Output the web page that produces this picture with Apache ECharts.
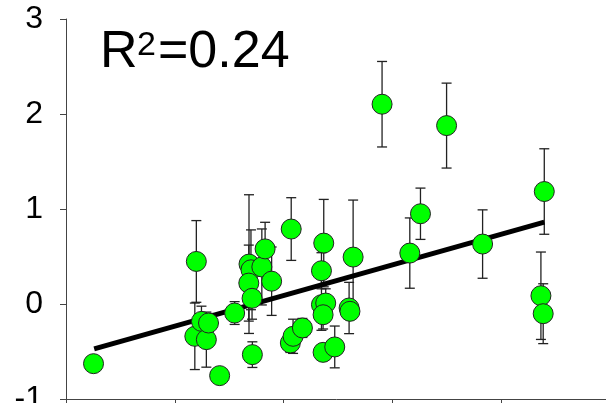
<!DOCTYPE html>
<html>
<head>
<meta charset="utf-8">
<script src="https://cdn.jsdelivr.net/npm/echarts@6/dist/echarts.min.js"></script>
<style>
  html, body { margin: 0; padding: 0; background: #fff; }
  #chart { width: 606px; height: 403px; }
</style>
</head>
<body>
<div id="chart"></div>
<script>
  // measured points (x in axis units, y value, symmetric error)
  var pointX = [0.253, 1.198, 1.184, 1.245, 1.29, 1.31, 1.412, 1.55, 1.713, 1.682,
    1.70, 1.68, 1.71, 1.80, 1.83, 1.89, 2.07, 2.062, 2.087, 2.173,
    2.369, 2.348, 2.348, 2.387, 2.363, 2.363, 2.47, 2.639, 2.602, 2.61,
    2.905, 3.498, 3.258, 3.16, 3.829, 4.396, 4.365, 4.386]
  var pointY = [-0.628, 0.448, -0.34, -0.183, -0.375, -0.20, -0.754, -0.095, -0.533, 0.42,
    0.36, 0.22, 0.06, 0.39, 0.58, 0.24, 0.789, -0.41, -0.34, -0.252,
    0.641, 0.35, -0.007, 0.01, -0.113, -0.509, -0.452, 0.494, -0.042, -0.077,
    2.103, 1.878, 0.95, 0.536, 0.631, 1.184, 0.087, -0.102]
  var errY = [0, 0.43, 0.35, 0.16, 0.29, 0.10, 0, 0.12, 0.135, 0.73,
    0.42, 0.40, 0.22, 0.40, 0.28, 0.36, 0.33, 0.10, 0.18, 0.10,
    0.46, 0.19, 0.27, 0.15, 0.15, 0, 0.22, 0.6, 0.27, 0.05,
    0.45, 0.447, 0.27, 0.37, 0.36, 0.45, 0.46, 0.315]

  // regression line end points
  var lineX = [0.259, 4.396]
  var lineY = [-0.473, 0.862]

  var yTicks = [-1, 0, 1, 2, 3]

  var fontName = '"Liberation Sans", Arial, sans-serif'

  var pts = pointX.map(function (x, i) { return [x, pointY[i]] })
  var bars = pointX.map(function (x, i) { return [x, pointY[i] - errY[i], pointY[i] + errY[i]] })
    .filter(function (d, i) { return errY[i] > 0 })
  var fit = lineX.map(function (x, i) { return [x, lineY[i]] })

  function txt(x, y, s, size) {
    return {
      type: 'text',
      x: x,
      y: y,
      style: {
        text: s,
        fill: '#000',
        fontSize: size,
        fontFamily: fontName,
        align: 'left',
        verticalAlign: 'middle'
      }
    }
  }

  var myChart = echarts.init(document.getElementById('chart'))
  myChart.setOption({
    animation: false,
    grid: {
      left: 66,
      top: 19,
      width: 544,
      height: 380,
      containLabel: false,
      outerBoundsMode: 'none'
    },
    xAxis: {
      type: 'value',
      min: 0,
      max: 5,
      interval: 1,
      splitLine: { show: false },
      axisLine: { onZero: false, lineStyle: { color: '#444', width: 1 } },
      axisTick: { length: 5, lineStyle: { color: '#444' } },
      axisLabel: { show: false }
    },
    yAxis: {
      type: 'value',
      min: yTicks[0],
      max: yTicks[yTicks.length - 1],
      interval: 1,
      splitLine: { show: false },
      axisLine: { show: true, lineStyle: { color: '#444', width: 1 } },
      axisTick: { show: true, length: 6, lineStyle: { color: '#444' } },
      axisLabel: {
        margin: 23,
        color: '#000',
        fontSize: 32,
        padding: [4, 0, 0, 0],
        fontFamily: fontName
      }
    },
    graphic: [
      txt(100, 53, 'R', 52),
      txt(137, 45.5, '2', 34),
      txt(158, 53, '=0.24', 52)
    ],
    series: [
      {
        // error bars
        type: 'custom',
        z: 1,
        data: bars,
        renderItem: function (params, api) {
          var lo = api.coord([api.value(0), api.value(1)])
          var hi = api.coord([api.value(0), api.value(2)])
          var w = 5
          var st = { stroke: '#222', lineWidth: 1.3 }
          return {
            type: 'group',
            children: [
              { type: 'line', shape: { x1: lo[0], y1: lo[1], x2: hi[0], y2: hi[1] }, style: st },
              { type: 'line', shape: { x1: hi[0] - w, y1: hi[1], x2: hi[0] + w, y2: hi[1] }, style: st },
              { type: 'line', shape: { x1: lo[0] - w, y1: lo[1], x2: lo[0] + w, y2: lo[1] }, style: st }
            ]
          }
        }
      },
      {
        type: 'line',
        z: 2,
        data: fit,
        symbol: 'none',
        lineStyle: { color: '#000', width: 5 }
      },
      {
        type: 'scatter',
        z: 3,
        data: pts,
        symbol: 'circle',
        symbolSize: 20,
        itemStyle: {
          color: '#00ff00',
          borderColor: '#222',
          borderWidth: 1,
          opacity: 1
        }
      }
    ]
  })
</script>
</body>
</html>
